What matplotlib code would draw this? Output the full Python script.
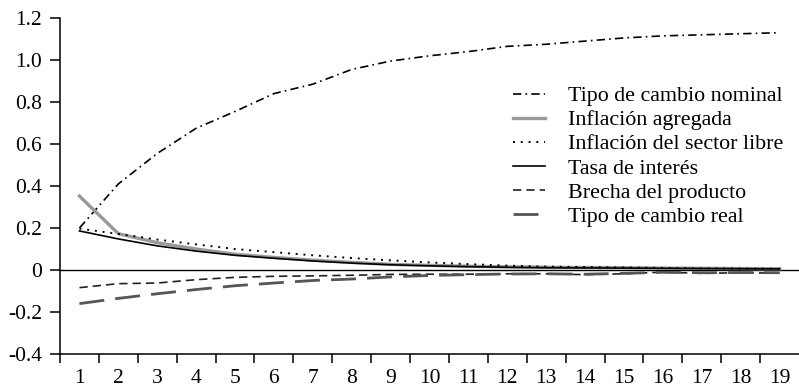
import matplotlib.pyplot as plt
from matplotlib.ticker import FixedLocator

plt.rcParams['font.family'] = ['Liberation Serif', 'DejaVu Serif']

periodos = list(range(1, 20))

tc_nominal = [0.20, 0.41, 0.555, 0.675, 0.755, 0.84, 0.885, 0.955, 0.995, 1.02,
              1.04, 1.065, 1.075, 1.09, 1.105, 1.115, 1.12, 1.125, 1.13]
inflacion_agregada = [0.352, 0.173, 0.13, 0.10, 0.075, 0.06, 0.047, 0.036, 0.027, 0.022,
                      0.018, 0.015, 0.013, 0.012, 0.011, 0.009, 0.008, 0.007, 0.006]
inflacion_libre = [0.197, 0.172, 0.145, 0.122, 0.10, 0.085, 0.07, 0.057, 0.046, 0.036,
                   0.028, 0.021, 0.016, 0.014, 0.012, 0.01, 0.008, 0.007, 0.006]
tasa_interes = [0.186, 0.148, 0.115, 0.09, 0.07, 0.056, 0.043, 0.033, 0.025, 0.02,
                0.016, 0.013, 0.011, 0.01, 0.009, 0.008, 0.007, 0.006, 0.005]
brecha_producto = [-0.084, -0.065, -0.062, -0.046, -0.035, -0.03, -0.028, -0.025, -0.021, -0.02,
                   -0.02, -0.018, -0.018, -0.022, -0.018, -0.01, -0.016, -0.013, -0.015]
tc_real = [-0.16, -0.135, -0.113, -0.093, -0.075, -0.062, -0.05, -0.043, -0.033, -0.026,
           -0.022, -0.019, -0.018, -0.02, -0.016, -0.011, -0.013, -0.012, -0.013]

etiquetas_y = ['-0.4', '-0.2', '0', '0.2', '0.4', '0.6', '0.8', '1.0', '1.2']
valores_y = [-0.4, -0.2, 0, 0.2, 0.4, 0.6, 0.8, 1.0, 1.2]

fig = plt.figure(figsize=(7.99, 3.88), dpi=100)
ax = fig.add_axes([0.0751, 0.0876, 0.9249, 0.866])

ax.axhline(0, color='black', lw=1.0, zorder=1)

ax.plot(periodos, tc_nominal, color='black', lw=1.2, dashes=(5, 2.5, 1, 2.5),
        label='Tipo de cambio nominal')
ax.plot(periodos, inflacion_agregada, color='#999999', lw=2.4,
        label='Inflación agregada')
ax.plot(periodos, inflacion_libre, color='black', lw=1.4, dashes=(1, 3),
        label='Inflación del sector libre')
ax.plot(periodos, tasa_interes, color='black', lw=1.2,
        label='Tasa de interés')
ax.plot(periodos, brecha_producto, color='#222222', lw=1.2, dashes=(5, 3),
        label='Brecha del producto')
ax.plot(periodos, tc_real, color='#555555', lw=2.0, dashes=(9, 4),
        label='Tipo de cambio real')

ax.set_xlim(0.5, 19.5)
ax.set_ylim(-0.4, 1.2)
ax.set_yticks(valores_y)
ax.set_yticklabels(etiquetas_y)

# marcas entre periodos, etiquetas en el centro
ax.xaxis.set_major_locator(FixedLocator([p - 0.5 for p in periodos]))
ax.xaxis.set_major_formatter(plt.NullFormatter())
ax.xaxis.set_minor_locator(FixedLocator(periodos))
ax.set_xticklabels([str(p) for p in periodos], minor=True)
ax.tick_params(axis='x', which='major', length=6.5, width=1.1, direction='out')
ax.tick_params(axis='x', which='minor', length=0, pad=11, labelsize=15.5)
ax.tick_params(axis='y', length=7, width=1.1, pad=6, labelsize=15.5)

for s in ['top', 'right']:
    ax.spines[s].set_visible(False)
for s in ['left', 'bottom']:
    ax.spines[s].set_linewidth(1.1)

leg = ax.legend(loc='upper left', bbox_to_anchor=(0.601, 0.824), frameon=False,
                fontsize=15.8, handlelength=1.46, handletextpad=1.05,
                labelspacing=0.17, borderaxespad=0)

fig.savefig('out.png', dpi=100)
